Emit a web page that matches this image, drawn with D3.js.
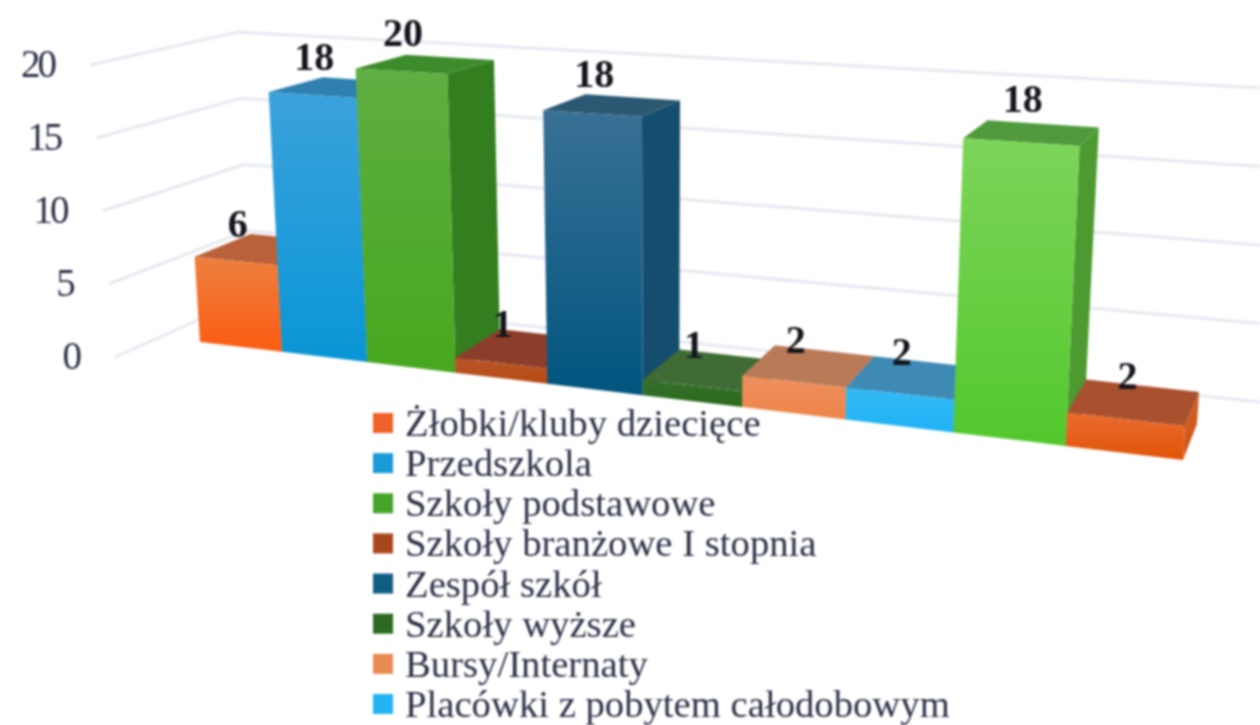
<!DOCTYPE html>
<html>
<head>
<meta charset="utf-8">
<script src="https://cdn.jsdelivr.net/npm/d3@7"></script>
<style>
  html, body { margin: 0; padding: 0; background: #fff; overflow: hidden; }
  svg { display: block; filter: blur(0.8px); }
  text { font-family: "Liberation Serif", serif; }
</style>
</head>
<body>
<div id="chart"></div>
<script>
// data
var categories = ["Żłobki/kluby dziecięce", "Przedszkola", "Szkoły podstawowe", "Szkoły branżowe I stopnia",
                  "Zespół szkół", "Szkoły wyższe", "Bursy/Internaty", "Placówki z pobytem całodobowym"];
var values = [6, 18, 20, 1, 18, 1, 2, 2, 18, 2];
var yTicks = [0, 5, 10, 15, 20];

// front top / front bottom / top face / side face / legend swatch
var frontTop = ["#ee7f3e", "#3ba2dc", "#5fae42", "#b9562a", "#3a7196", "#37702c", "#ee9060", "#35b9f3", "#7dd55a", "#e96c30"];
var frontBottom = ["#fb5c12", "#0996d6", "#47a81e", "#b84a12", "#00557f", "#2a6a1c", "#ee8448", "#1fb2f7", "#52c82c", "#e25406"];
var topFace = ["#b8613b", "#2f80b0", "#3d8c2c", "#8c3e2b", "#2b5872", "#3f6b35", "#b97a58", "#3f8ab5", "#4f9a3c", "#a9502f"];
var sideFace = ["#a04a20", "#20689a", "#337f20", "#7c3314", "#154d6e", "#24541a", "#b06a42", "#2a80ad", "#4c9a30", "#cf5a1c"];
var swatch = ["#f0622a", "#1a9ad6", "#45a52a", "#a8481a", "#0f5f84", "#2c6a22", "#e88a52", "#22b4f2"];

var width = 1260, height = 725;

var svg = d3.select("#chart").append("svg")
    .attr("width", width)
    .attr("height", height);
var defs = svg.append("defs");

//Scales for the 3D box, value and category go from data to 0..1
var vScale = d3.scaleLinear().domain([0, 20]).range([0, 1]);
var iScale = d3.scaleLinear().domain([0, values.length]).range([0, 1]);

//Bars get wider to the right because of the perspective
var persp = 1.22;
function warp(t) { return t / (t + persp * (1 - t)); }

//Pixel corners of the bars box, the bars are projected between them
var frontBase = { x: d3.scaleLinear().range([200, 1183]), y: d3.scaleLinear().range([342, 460]) };
var frontRoof = { x: d3.scaleLinear().range([182, 1203]), y: d3.scaleLinear().range([58, 120]) };
var depthBase = { x: d3.scaleLinear().range([55, 14]), y: d3.scaleLinear().range([-27, -36]) };
var depthRoof = { x: d3.scaleLinear().range([58, 14]), y: d3.scaleLinear().range([-13, -17]) };
var labelLift = d3.scaleLinear().range([24, 31]);

//i = category position, d = 0 front / 1 back, v = value
function project(i, d, v) {
  var u = warp(iScale(i)), t = vScale(v);
  var fx = frontBase.x(u) + (frontRoof.x(u) - frontBase.x(u)) * t,
      fy = frontBase.y(u) + (frontRoof.y(u) - frontBase.y(u)) * t,
      dx = depthBase.x(u) + (depthRoof.x(u) - depthBase.x(u)) * t,
      dy = depthBase.y(u) + (depthRoof.y(u) - depthBase.y(u)) * t;
  return [fx + dx * d, fy + dy * d];
}

//Grid lines on the two walls
var wallFront = { x: d3.scaleLinear().domain([0, 20]).range([115, 90]), y: d3.scaleLinear().domain([0, 20]).range([357, 65]) };
var wallCorner = { x: d3.scaleLinear().domain([0, 20]).range([250, 238]), y: d3.scaleLinear().domain([0, 20]).range([297, 32]) };
var wallRight = { x: d3.scaleLinear().domain([0, 20]).range([1260, 1260]), y: d3.scaleLinear().domain([0, 20]).range([402, 88]) };
var line = d3.line();

svg.append("g").selectAll("path")
    .data(yTicks)
  .enter().append("path")
    .attr("d", function(t) {
      return line([[wallFront.x(t), wallFront.y(t)], [wallCorner.x(t), wallCorner.y(t)], [wallRight.x(t), wallRight.y(t)]]);
    })
    .attr("fill", "none")
    .attr("stroke", "#e6e9f1")
    .attr("stroke-width", 3);

svg.append("g").selectAll("text")
    .data(yTicks)
  .enter().append("text")
    .attr("x", function(t) { return wallFront.x(t) - 36; })
    .attr("y", function(t) { return wallFront.y(t) + 12; })
    .attr("text-anchor", "end")
    .attr("font-size", 39)
    .attr("letter-spacing", -3)
    .attr("fill", "#2b2f45")
    .text(function(t) { return t; });

//Bars, painted left to right so the next bar covers the last one
var bars = svg.append("g").selectAll("g")
    .data(values)
  .enter().append("g");

values.forEach(function(v, i) {
  var grad = defs.append("linearGradient")
      .attr("id", "front" + i)
      .attr("x1", 0).attr("y1", 0).attr("x2", 0).attr("y2", 1);
  grad.append("stop").attr("offset", "0%").attr("stop-color", frontTop[i]);
  grad.append("stop").attr("offset", "100%").attr("stop-color", frontBottom[i]);
});

function face(pts) { return line(pts) + "Z"; }

bars.append("path")
    .attr("d", function(v, i) {
      return face([project(i + 1, 0, 0), project(i + 1, 1, 0), project(i + 1, 1, v), project(i + 1, 0, v)]);
    })
    .attr("fill", function(v, i) { return sideFace[i]; });
bars.append("path")
    .attr("d", function(v, i) {
      return face([project(i, 0, v), project(i + 1, 0, v), project(i + 1, 1, v), project(i, 1, v)]);
    })
    .attr("fill", function(v, i) { return topFace[i]; });
bars.append("path")
    .attr("d", function(v, i) {
      return face([project(i, 0, 0), project(i + 1, 0, 0), project(i + 1, 0, v), project(i, 0, v)]);
    })
    .attr("fill", function(v, i) { return "url(#front" + i + ")"; });

//Value labels sit over the middle of the front top edge
svg.append("g").selectAll("text")
    .data(values)
  .enter().append("text")
    .attr("x", function(v, i) { return project(i + 0.5, 0, v)[0] + 2; })
    .attr("y", function(v, i) { return project(i + 0.5, 0, v)[1] - labelLift(warp(iScale(i + 0.5))); })
    .attr("text-anchor", "middle")
    .attr("font-size", 40)
    .attr("font-weight", "bold")
    .attr("fill", "#14141c")
    .text(function(v) { return v; });

//Legend, the last entries fall outside the picture
var legendY = d3.scaleLinear().domain([0, categories.length - 1]).range([423, 704]);
var legend = svg.append("g").selectAll("g")
    .data(categories)
  .enter().append("g")
    .attr("transform", function(d, i) { return "translate(373," + legendY(i) + ")"; });

legend.append("rect")
    .attr("x", 0).attr("y", -10)
    .attr("width", 20).attr("height", 20)
    .attr("fill", function(d, i) { return swatch[i]; });
legend.append("text")
    .attr("x", 32).attr("y", 13)
    .attr("font-size", 38.7)
    .attr("fill", "#2b2f45")
    .text(function(d) { return d; });
</script>
</body>
</html>
